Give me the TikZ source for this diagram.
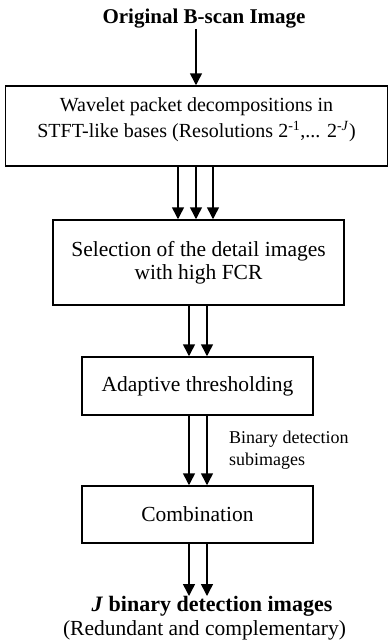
\documentclass[tikz,border=0pt]{standalone}
\usepackage{fontspec}
\setmainfont{Liberation Serif}
\usetikzlibrary{arrows.meta}
\begin{document}
\begin{tikzpicture}[x=1pt,y=-1pt,
  stage/.style={draw, line width=1.5pt, inner sep=0pt, align=center,
    font=\fontsize{21.5}{23}\selectfont},
  arr/.style={line width=1.5pt, -{Triangle[width=12pt,length=12pt]}},
  caption/.style={inner sep=0pt, align=center}]
\useasboundingbox (0,0) rectangle (389,642);

% column positions of the parallel flows
\coordinate (xa) at (178,0);
\coordinate (xb) at (196,0);
\coordinate (xc) at (213,0);
\coordinate (xd) at (189,0);
\coordinate (xe) at (207,0);

\node[caption, font=\fontsize{21}{24}\selectfont\bfseries] (src) at (204,19) {Original B-scan Image};

\node[stage, minimum width=382pt, minimum height=80pt, font=\fontsize{20}{26}\selectfont] (wp) at (196.5,126)
  {Wavelet packet decompositions in\\STFT-like bases (Resolutions 2\textsuperscript{-1},... 2\textsuperscript{-\textit{J}})\\[-10pt]\mbox{}};
\node[stage, minimum width=291pt, minimum height=85pt] (sel) at (198.5,262.5)
  {Selection of the detail images\\with high FCR};
\node[stage, minimum width=231pt, minimum height=58pt] (thr) at (197.5,386)
  {Adaptive thresholding};
\node[stage, minimum width=231pt, minimum height=57pt] (comb) at (197.5,514.5)
  {Combination};

\node[caption, anchor=west, align=left, font=\fontsize{18}{22}\selectfont] (lbl) at (229,450)
  {Binary detection\\subimages};

\node[caption, anchor=north, font=\fontsize{22}{24}\selectfont\bfseries] (out) at (212,596)
  {\textit{J} binary detection images};
\node[caption, font=\fontsize{21.5}{24}\selectfont] (outnote) at (204.5,630)
  {(Redundant and complementary)};

\draw[arr] (src.south -| xb) -- (wp.north -| xb);
\draw[arr] (wp.south -| xa) -- (sel.north -| xa);
\draw[arr] (wp.south -| xb) -- (sel.north -| xb);
\draw[arr] (wp.south -| xc) -- (sel.north -| xc);
\draw[arr] (sel.south -| xd) -- (thr.north -| xd);
\draw[arr] (sel.south -| xe) -- (thr.north -| xe);
\draw[arr] (thr.south -| xd) -- (comb.north -| xd);
\draw[arr] (thr.south -| xe) -- (comb.north -| xe);
\draw[arr] (comb.south -| xd) -- (out.north -| xd);
\draw[arr] (comb.south -| xe) -- (out.north -| xe);
\end{tikzpicture}
\end{document}
